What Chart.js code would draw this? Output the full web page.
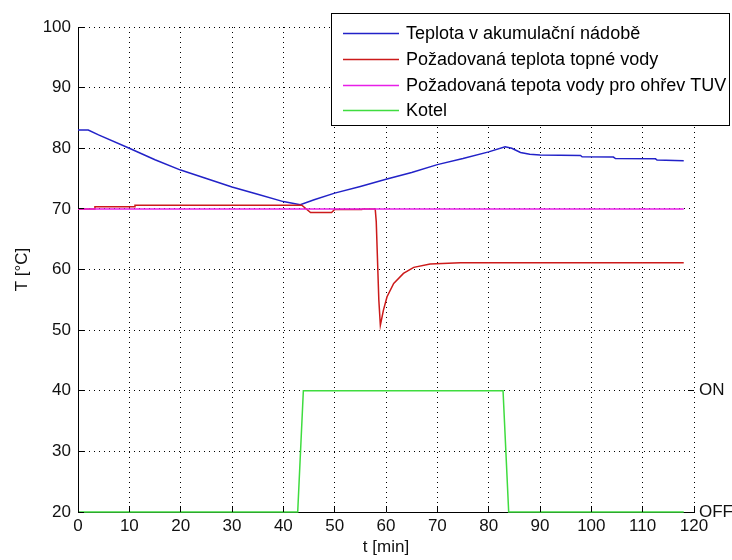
<!DOCTYPE html>
<html>
<head>
<meta charset="utf-8">
<script src="https://cdn.jsdelivr.net/npm/chart.js@4/dist/chart.umd.min.js"></script>
<style>
  html, body { margin: 0; padding: 0; background: #fff; }
</style>
</head>
<body>
<canvas id="chart" width="732" height="560"></canvas>
<script>
/* ---------- data ---------- */
const seriesLabels = [
  'Teplota v akumulační nádobě',
  'Požadovaná teplota topné vody',
  'Požadovaná tepota vody pro ohřev TUV',
  'Kotel'
];

const tankX = [0, 2, 4, 10, 15, 20, 25, 30, 35, 40, 43.3, 46, 50, 55, 60, 65, 70, 75, 80, 83.2, 84.5, 86.2, 88, 90, 97.9, 98.2, 104.3, 104.7, 112.5, 112.8, 118];
const tankY = [83, 83, 82.2, 80, 78.1, 76.4, 75, 73.6, 72.4, 71.2, 70.7, 71.5, 72.6, 73.7, 74.9, 76, 77.3, 78.3, 79.4, 80.25, 80, 79.3, 79, 78.9, 78.8, 78.6, 78.55, 78.3, 78.25, 78.05, 77.95];

const heatX = [0, 3.2, 3.3, 11, 11.1, 43.6, 45.3, 49.4, 50, 55.3, 55.4, 57.9, 58.1, 58.6, 58.9, 59.5, 60.2, 61.5, 63.4, 65.4, 68.6, 74.5, 118];
const heatY = [70, 70, 70.35, 70.35, 70.6, 70.6, 69.4, 69.4, 69.9, 69.9, 70, 70, 67.9, 55, 50.8, 53.3, 55.5, 57.7, 59.35, 60.35, 60.9, 61.1, 61.1];

const tuvX = [0, 118];
const tuvY = [70, 70];

const boilerX = [0, 42.8, 43.9, 82.8, 83.9, 118];
const boilerY = [20, 20, 40, 40, 20, 20];

const rightTickValues = [20, 40];
const rightTickLabels = ['OFF', 'ON'];

/* ---------- helpers ---------- */
function pts(xs, ys) { return xs.map((x, i) => ({ x: x, y: ys[i] })); }

Chart.defaults.font.family = "'Liberation Sans', Arial, sans-serif";
Chart.defaults.color = '#111';

const tickFont = { size: 17 };
const align = (v) => Math.round(v - 0.5) + 0.5;

// MATLAB-like decorations: inward ticks + boxed legend
const matlabDecor = {
  id: 'matlabDecor',
  afterDraw(chart) {
    const { ctx, chartArea: a, scales } = chart;
    ctx.save();
    ctx.strokeStyle = '#000';
    ctx.lineWidth = 1;
    ctx.beginPath();
    scales.x.ticks.forEach(t => {
      const px = align(scales.x.getPixelForValue(t.value));
      ctx.moveTo(px, a.bottom); ctx.lineTo(px, a.bottom - 6);
    });
    scales.y.ticks.forEach(t => {
      const py = align(scales.y.getPixelForValue(t.value));
      ctx.moveTo(a.left, py); ctx.lineTo(a.left + 6, py);
    });
    scales.y2.ticks.forEach(t => {
      const py = align(scales.y2.getPixelForValue(t.value));
      ctx.moveTo(a.right, py); ctx.lineTo(a.right - 6, py);
    });
    ctx.stroke();

    // legend box
    ctx.fillStyle = '#fff';
    ctx.fillRect(332, 13, 398, 113);
    ctx.strokeRect(331.5, 13.5, 398, 112);
    const rows = [33, 59, 85, 110];
    ctx.font = "18px 'Liberation Sans', Arial, sans-serif";
    ctx.textBaseline = 'middle';
    ctx.textAlign = 'left';
    chart.data.datasets.forEach((ds, i) => {
      const y = rows[i] + 0.5;
      ctx.strokeStyle = ds.borderColor;
      ctx.lineWidth = 1.5;
      ctx.beginPath(); ctx.moveTo(343, y); ctx.lineTo(399, y); ctx.stroke();
      ctx.fillStyle = '#000';
      ctx.fillText(ds.label, 406, rows[i] + 1);
    });
    ctx.restore();
  }
};

new Chart(document.getElementById('chart'), {
  type: 'line',
  data: {
    datasets: [
      { label: seriesLabels[0], data: pts(tankX, tankY), borderColor: '#2222c8', order: 3 },
      { label: seriesLabels[1], data: pts(heatX, heatY), borderColor: '#cc1a1a', order: 2 },
      { label: seriesLabels[2], data: pts(tuvX, tuvY), borderColor: '#e81ee8', order: 1 },
      { label: seriesLabels[3], data: pts(boilerX, boilerY), borderColor: '#3fdc3f', order: 0 }
    ].map(d => Object.assign(d, { borderWidth: 1.5, pointRadius: 0, fill: false, tension: 0, clip: false }))
  },
  options: {
    responsive: false,
    animation: false,
    layout: { padding: { top: 27, left: 0, right: 0, bottom: 0 } },
    plugins: { legend: { display: false }, tooltip: { enabled: false } },
    scales: {
      x: {
        type: 'linear', min: 0, max: 120,
        ticks: { stepSize: 10, font: tickFont, padding: 4, maxRotation: 0 },
        grid: { color: '#000', lineWidth: 1, drawTicks: false },
        border: { display: true, color: '#000', width: 1, dash: [1, 4] },
        title: { display: true, text: 't [min]', font: tickFont, color: '#111', padding: { top: 0, bottom: 2 } },
        afterFit(s) { s.height = 48; }
      },
      y: {
        min: 20, max: 100,
        ticks: { stepSize: 10, font: tickFont, padding: 7 },
        grid: { color: '#000', lineWidth: 1, drawTicks: false },
        border: { display: true, color: '#000', width: 1, dash: [1, 4] },
        title: { display: true, text: 'T [°C]', font: tickFont, color: '#111', padding: { top: 12, bottom: 0 } },
        afterFit(s) { s.width = 78; }
      },
      y2: {
        position: 'right', min: 20, max: 100,
        afterBuildTicks(axis) { axis.ticks = rightTickValues.map(v => ({ value: v })); },
        ticks: {
          font: tickFont, padding: 5,
          callback: (v) => rightTickLabels[rightTickValues.indexOf(v)]
        },
        grid: { display: false, drawTicks: false },
        border: { display: false },
        afterFit(s) { s.width = 38; }
      }
    }
  },
  plugins: [matlabDecor]
});
</script>
</body>
</html>
